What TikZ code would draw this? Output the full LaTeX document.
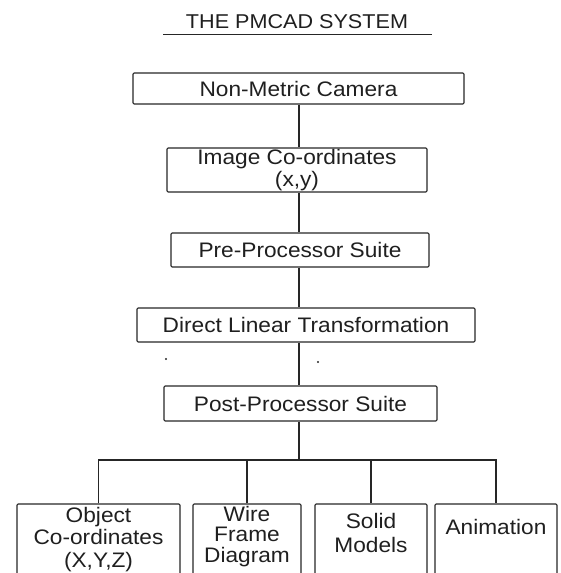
\documentclass[tikz,border=0pt]{standalone}
\usepackage{fontspec}
\setmainfont{Liberation Sans}[FakeStretch=1.08]
\definecolor{ln}{gray}{0.15}
\definecolor{tx}{gray}{0.12}
\newcommand\dfont{\fontsize{21}{22}\selectfont}
\begin{document}
\begin{tikzpicture}[x=1pt,y=-1pt,
  box/.style={draw=ln, line width=1.1pt, rounded corners=1.2pt, inner sep=0pt, align=center, font=\dfont, text=tx},
  txt/.style={inner sep=0pt, align=center, text=tx, anchor=north},
  conn/.style={draw=ln, line width=1.1pt}]
\useasboundingbox (0,0) rectangle (561,573);
\clip (0,0) rectangle (561,573);
% title
\node[anchor=base, inner sep=0pt, text=tx, font=\fontsize{20}{22}\selectfont] (title) at (297,28) {THE PMCAD SYSTEM};
\coordinate (ul1) at (163,34);
\coordinate (ul2) at (432,34);
\draw[draw=ln, line width=0.9pt] (ul1) -- (ul2);
% main chain
\node[box, minimum width=331pt, minimum height=31pt] (cam) at (298.5,88.5) {Non-Metric Camera};
\node[box, minimum width=260pt, minimum height=44pt] (img) at (297,170) {Image Co-ordinates\\(x,y)};
\node[box, minimum width=258pt, minimum height=34pt] (pre) at (300,250) {Pre-Processor Suite};
\node[box, minimum width=338pt, minimum height=34pt] (dlt) at (306,325) {Direct Linear Transformation};
\node[box, minimum width=273pt, minimum height=35pt] (post) at (300.5,403.5) {Post-Processor Suite};
% bottom boxes
\node[box, minimum width=163pt, minimum height=86pt] (obj) at (98.5,547) {};
\node[box, minimum width=108pt, minimum height=86pt] (wire) at (247,547) {};
\node[box, minimum width=112pt, minimum height=86pt] (sol) at (371,547) {};
\node[box, minimum width=122pt, minimum height=86pt] (anim) at (496,547) {};
\node[txt, font=\fontsize{21}{22.5}\selectfont] (objt) at (98.5,507) {Object\\Co-ordinates\\(X,Y,Z)};
\node[txt, font=\fontsize{21}{20.5}\selectfont] (wiret) at (247,506) {Wire\\Frame\\Diagram};
\node[txt, font=\fontsize{21}{24}\selectfont] (solt) at (371,513) {Solid\\Models};
\node[txt, font=\fontsize{21}{24}\selectfont] (animt) at (496,519) {Animation};
% connectors
\coordinate (tx) at (299,0);
\coordinate (br) at (299,460);
\draw[conn] (cam.south -| tx) -- (img.north -| tx);
\draw[conn] (img.south -| tx) -- (pre.north -| tx);
\draw[conn] (pre.south -| tx) -- (dlt.north -| tx);
\draw[conn] (dlt.south -| tx) -- (post.north -| tx);
\draw[conn] (post.south -| tx) -- (br);
\draw[conn] (obj.north) -- (obj.north |- br) -- (anim.north |- br) -- (anim.north);
\draw[conn] (wire.north) -- (wire.north |- br);
\draw[conn] (sol.north) -- (sol.north |- br);
% specks
\fill[ln] (166,359) circle (1.1pt);
\fill[ln] (318,362) circle (1.1pt);
\end{tikzpicture}
\end{document}
